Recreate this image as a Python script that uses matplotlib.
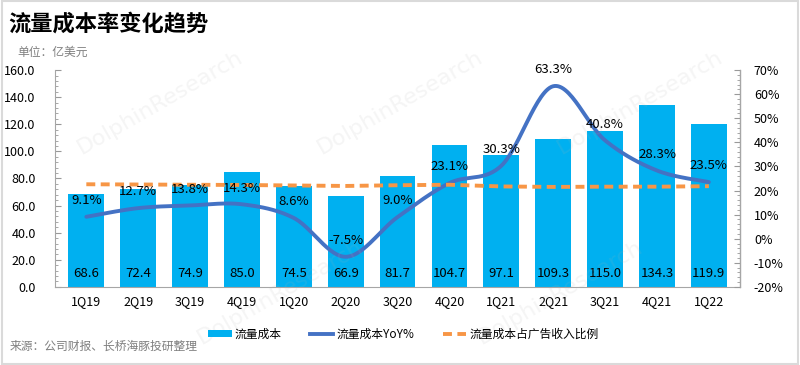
import matplotlib
matplotlib.use("Agg")
import matplotlib.pyplot as plt
import numpy as np
from matplotlib.ticker import MultipleLocator, AutoMinorLocator, FuncFormatter
from matplotlib.lines import Line2D
from matplotlib.patches import Patch, Rectangle

plt.rcParams['font.family'] = ['Noto Sans CJK SC', 'DejaVu Sans']

categories = ["1Q19", "2Q19", "3Q19", "4Q19", "1Q20", "2Q20", "3Q20",
              "4Q20", "1Q21", "2Q21", "3Q21", "4Q21", "1Q22"]
cost = [68.6, 72.4, 74.9, 85.0, 74.5, 66.9, 81.7, 104.7, 97.1, 109.3, 115.0, 134.3, 119.9]
yoy = [9.1, 12.7, 13.8, 14.3, 8.6, -7.5, 9.0, 23.1, 30.3, 63.3, 40.8, 28.3, 23.5]
ratio = [22.6, 22.5, 22.4, 22.3, 22.1, 21.9, 22.2, 22.4, 21.7, 21.5, 21.6, 21.6, 21.8]

BAR = "#00B0F0"
LINE = "#4472C4"
ORANGE = "#F79646"
DASH = (0, (2.3, 1.4))

fig = plt.figure(figsize=(8, 3.65), dpi=100)
fig.patch.set_facecolor("white")
fig.patches.append(Rectangle((0.003, 0.003), 0.994, 0.994, transform=fig.transFigure,
                             fill=False, edgecolor="#DADADA", linewidth=1.5))

ax = fig.add_axes([0.069, 0.214, 0.856, 0.594])
ax2 = ax.twinx()

x = np.arange(len(categories))
ax.bar(x, cost, width=0.69, color=BAR, zorder=2)
ax.set_xlim(-0.6, 12.6)
ax.set_ylim(0, 160)
ax.yaxis.set_major_locator(MultipleLocator(20))
ax.yaxis.set_minor_locator(AutoMinorLocator(5))
ax.yaxis.set_major_formatter(FuncFormatter(lambda v, p: f"{v:.1f}"))
ax.set_xticks(x)
ax.set_xticklabels(categories)
ax.tick_params(axis='x', length=0, labelsize=9, pad=6)
ax.tick_params(axis='y', which='both', direction='in', labelsize=9, colors="#999999",
               labelcolor="black", pad=14)
ax.tick_params(axis='y', which='major', length=4)
ax.tick_params(axis='y', which='minor', length=2.5)

ax.spines["top"].set_visible(False)
ax2.spines["top"].set_visible(False)
for sp in [ax.spines["left"], ax.spines["bottom"], ax2.spines["right"]]:
    sp.set_color("#A6A6A6")
ax2.spines["left"].set_visible(False)
ax2.spines["bottom"].set_visible(False)

for xi, v in zip(x, cost):
    ax.text(xi, 10, f"{v:.1f}", ha='center', va='center', fontsize=9.5, zorder=5)

ax2.set_ylim(-20, 70)
ax2.yaxis.set_major_locator(MultipleLocator(10))
ax2.yaxis.set_minor_locator(AutoMinorLocator(5))
ax2.yaxis.set_major_formatter(FuncFormatter(lambda v, p: f"{v:.0f}%"))
ax2.tick_params(axis='y', which='both', direction='in', labelsize=9, colors="#999999",
                labelcolor="black", pad=10)
ax2.tick_params(axis='y', which='major', length=4)
ax2.tick_params(axis='y', which='minor', length=2.5)

# Smooth curve (Catmull-Rom in display-proportional space)
def catmull(xs, ys, n=30):
    xs = np.asarray(xs, float); ys = np.asarray(ys, float)
    P = np.column_stack([xs, ys])
    P = np.vstack([P[0], P, P[-1]])
    out = []
    for i in range(1, len(P) - 2):
        p0, p1, p2, p3 = P[i - 1], P[i], P[i + 1], P[i + 2]
        t = np.linspace(0, 1, n, endpoint=False)[:, None]
        c = 0.5 * ((2 * p1) + (-p0 + p2) * t + (2 * p0 - 5 * p1 + 4 * p2 - p3) * t ** 2
                   + (-p0 + 3 * p1 - 3 * p2 + p3) * t ** 3)
        out.append(c)
    out.append(P[-2][None, :])
    out = np.vstack(out)
    return out[:, 0], out[:, 1]

sx, sy = 52.0, 2.41
cx, cy = catmull(x * sx, np.array(yoy) * sy)
ax2.plot(cx / sx, cy / sy, color=LINE, linewidth=2.8, zorder=4, solid_capstyle='round')
ax2.plot(x, ratio, color=ORANGE, linewidth=2.8, linestyle=DASH, zorder=4)

for xi, v in zip(x, yoy):
    ax2.annotate(f"{v:.1f}%", (xi, v), xytext=(0, 7), textcoords='offset points',
                 ha='center', va='bottom', fontsize=9.5, zorder=6)

ax.set_zorder(1)
ax2.set_zorder(2)
ax.patch.set_visible(False)
ax2.patch.set_visible(False)

# watermarks
for (wx, wy) in [(0.2, 0.72), (0.5, 0.72), (0.8, 0.72), (0.35, 0.2), (0.7, 0.2)]:
    fig.text(wx, wy, "DolphinResearch", fontsize=16, color="#B0B0B0", alpha=0.13,
             rotation=30, ha='center', va='center', family='DejaVu Sans')

fig.text(0.010, 0.935, "流量成本率变化趋势", fontsize=16, fontweight='bold', ha='left', va='center')
fig.text(0.022, 0.857, "单位：亿美元", fontsize=8.5, color="#7F7F7F", ha='left', va='center')
fig.text(0.012, 0.05, "来源：公司财报、长桥海豚投研整理", fontsize=8.5, color="#7F7F7F",
         ha='left', va='center')

handles = [Patch(facecolor=BAR, edgecolor='none'),
           Line2D([], [], color=LINE, linewidth=2.8),
           Line2D([], [], color=ORANGE, linewidth=2.8, linestyle=DASH)]
labels = ["流量成本", "流量成本YoY%", "流量成本占广告收入比例"]
fig.legend(handles, labels, loc='center', bbox_to_anchor=(0.504, 0.085), ncol=3,
           frameon=False, fontsize=8.5, handlelength=2.0, handleheight=0.55,
           columnspacing=2.4, handletextpad=0.25)

fig.savefig("out.png", dpi=100, facecolor="white")
